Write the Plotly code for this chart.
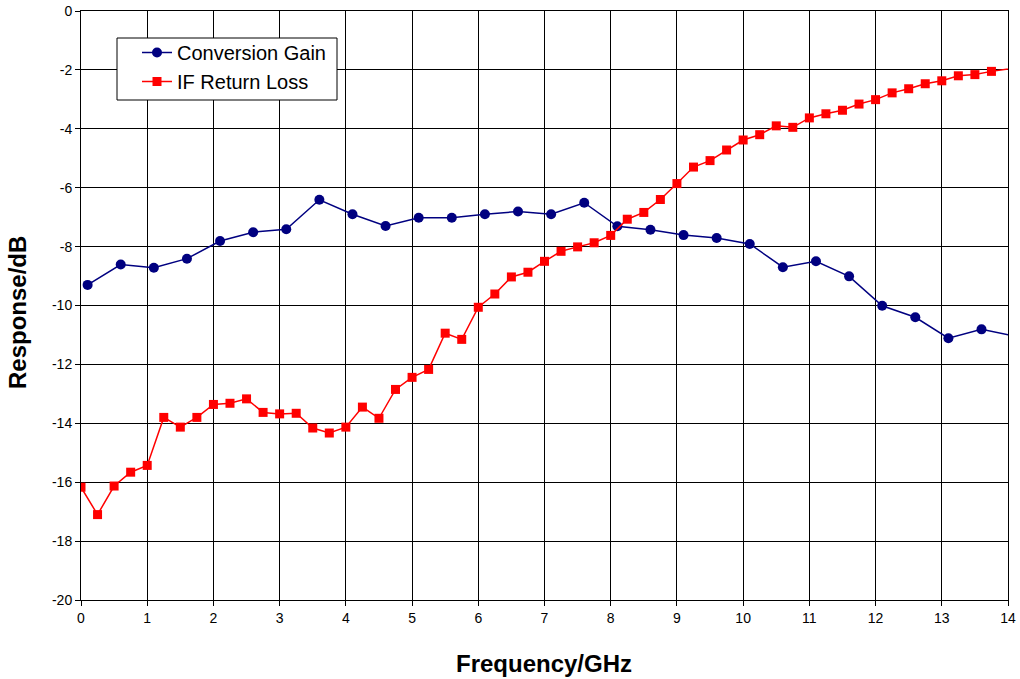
import plotly.graph_objects as go

# Conversion Gain
cg_freq = [0.1, 0.6, 1.1, 1.6, 2.1, 2.6, 3.1, 3.6, 4.1, 4.6, 5.1, 5.6, 6.1, 6.6,
           7.1, 7.6, 8.1, 8.6, 9.1, 9.6, 10.1, 10.6, 11.1, 11.6, 12.1, 12.6,
           13.1, 13.6, 14.1]
cg_vals = [-9.30, -8.61, -8.72, -8.41, -7.81, -7.51, -7.41, -6.41, -6.90, -7.30,
           -7.02, -7.02, -6.90, -6.81, -6.90, -6.51, -7.31, -7.43, -7.61, -7.71,
           -7.91, -8.70, -8.50, -9.01, -10.01, -10.40, -11.11, -10.81, -11.04]

# IF Return Loss
rl_freq = [0.0, 0.25, 0.5, 0.75, 1.0, 1.25, 1.5, 1.75, 2.0, 2.25, 2.5, 2.75,
           3.0, 3.25, 3.5, 3.75, 4.0, 4.25, 4.5, 4.75, 5.0, 5.25, 5.5, 5.75,
           6.0, 6.25, 6.5, 6.75, 7.0, 7.25, 7.5, 7.75, 8.0, 8.25, 8.5, 8.75,
           9.0, 9.25, 9.5, 9.75, 10.0, 10.25, 10.5, 10.75, 11.0, 11.25, 11.5,
           11.75, 12.0, 12.25, 12.5, 12.75, 13.0, 13.25, 13.5, 13.75, 14.25]
rl_vals = [-16.17, -17.10, -16.13, -15.66, -15.43, -13.80, -14.13, -13.80,
           -13.36, -13.32, -13.17, -13.63, -13.68, -13.66, -14.16, -14.33,
           -14.13, -13.45, -13.83, -12.85, -12.44, -12.17, -10.94, -11.15,
           -10.06, -9.61, -9.03, -8.87, -8.50, -8.16, -8.01, -7.87, -7.62,
           -7.07, -6.84, -6.40, -5.86, -5.30, -5.08, -4.72, -4.38, -4.20,
           -3.90, -3.95, -3.63, -3.49, -3.37, -3.16, -3.01, -2.78, -2.64,
           -2.47, -2.37, -2.20, -2.16, -2.05, -1.89]

x_ticks = list(range(0, 15))
x_tick_text = [str(v) for v in x_ticks]
y_ticks = list(range(-20, 1, 2))
y_tick_text = [str(v) for v in y_ticks]

font_family = "Liberation Sans, Arial, sans-serif"

W, H = 1020, 679
ML, MR, MT, MB = 81, 12, 11, 79
PW, PH = W - ML - MR, H - MT - MB


def px_x(p):
    return (p - ML) / PW


def px_y(p):
    return 1 - (p - MT) / PH


fig = go.Figure()
fig.add_trace(go.Scatter(
    x=cg_freq, y=cg_vals, name="Conversion Gain", mode="lines+markers",
    line=dict(color="#000080", width=1.5),
    marker=dict(symbol="circle", size=10, color="#000080"),
))
fig.add_trace(go.Scatter(
    x=rl_freq, y=rl_vals, name="IF Return Loss", mode="lines+markers",
    line=dict(color="#FF0000", width=1.5),
    marker=dict(symbol="square", size=9, color="#FF0000"),
))

fig.update_layout(
    width=W, height=H,
    margin=dict(l=ML, r=MR, t=MT, b=MB, autoexpand=False),
    paper_bgcolor="white", plot_bgcolor="white",
    font=dict(family=font_family, size=14, color="black"),
    showlegend=True,
    legend=dict(
        x=px_x(137), y=px_y(33), xanchor="left", yanchor="top",
        bgcolor="rgba(0,0,0,0)", borderwidth=0,
        font=dict(size=20, family=font_family, color="black"),
        itemwidth=30, tracegroupgap=0,
    ),
    shapes=[
        dict(type="rect", xref="paper", yref="paper",
             x0=px_x(117), x1=px_x(337), y0=px_y(100), y1=px_y(38),
             line=dict(color="black", width=1), fillcolor="white", layer="above"),
    ],
    xaxis=dict(
        range=[0, 14], tickvals=x_ticks, ticktext=x_tick_text,
        showgrid=True, gridcolor="black", gridwidth=1,
        showline=True, linecolor="black", linewidth=1, mirror=True,
        ticks="outside", ticklen=5, tickcolor="black",
        zeroline=False, automargin=False,
    ),
    yaxis=dict(
        range=[-20, 0], tickvals=y_ticks, ticktext=y_tick_text,
        showgrid=True, gridcolor="black", gridwidth=1,
        showline=True, linecolor="black", linewidth=1, mirror=True,
        ticks="outside", ticklen=5, tickcolor="black",
        zeroline=False, automargin=False,
    ),
    annotations=[
        dict(text="<b>Frequency/GHz</b>", xref="paper", yref="paper",
             x=px_x(544), y=px_y(663), xanchor="center", yanchor="middle",
             showarrow=False, font=dict(size=24, family=font_family)),
        dict(text="<b>Response/dB</b>", xref="paper", yref="paper",
             x=px_x(17), y=px_y(313), xanchor="center", yanchor="middle",
             textangle=-90, showarrow=False,
             font=dict(size=24, family=font_family)),
    ],
)

fig.write_html("out.html", config={"displayModeBar": False},
               post_script="document.body.style.margin='0';")
